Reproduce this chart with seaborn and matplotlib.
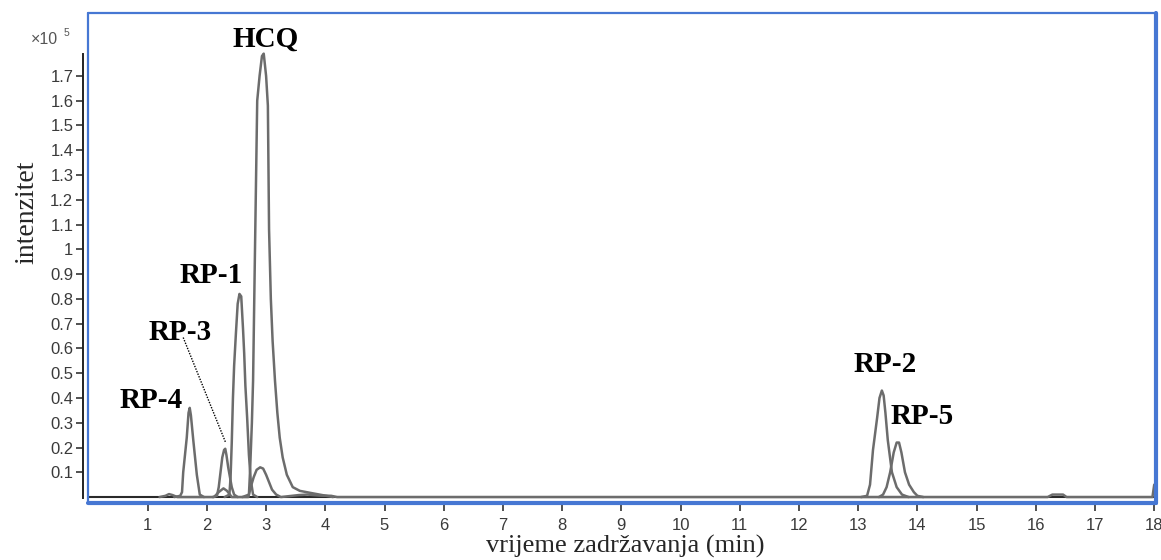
import matplotlib
matplotlib.use('Agg')
import matplotlib.pyplot as plt
import pandas as pd
import seaborn as sns

sns.set_style('white')
plt.rcParams['font.family'] = ['Liberation Sans', 'DejaVu Sans']

# retention time (min) / intensity (x10^5)
rp4_t = [1.45, 1.55, 1.58, 1.60, 1.63, 1.66, 1.69, 1.71, 1.73, 1.77, 1.80, 1.83, 1.88, 1.95]
rp4_i = [0.0, 0.005, 0.02, 0.10, 0.17, 0.24, 0.34, 0.36, 0.33, 0.23, 0.16, 0.09, 0.01, 0.0]

rp3_t = [2.10, 2.17, 2.20, 2.23, 2.26, 2.29, 2.31, 2.33, 2.36, 2.39, 2.42, 2.46, 2.52]
rp3_i = [0.0, 0.005, 0.04, 0.10, 0.16, 0.19, 0.195, 0.17, 0.12, 0.08, 0.04, 0.01, 0.0]

rp1_t = [2.30, 2.38, 2.40, 2.42, 2.44, 2.46, 2.49, 2.52, 2.55, 2.58, 2.61, 2.63, 2.65, 2.68,
         2.71, 2.74, 2.78, 2.85]
rp1_i = [0.0, 0.01, 0.08, 0.22, 0.40, 0.53, 0.66, 0.78, 0.82, 0.81, 0.68, 0.58, 0.45, 0.32,
         0.17, 0.07, 0.01, 0.0]

hcq_t = [2.60, 2.71, 2.73, 2.76, 2.78, 2.81, 2.85, 2.89, 2.93, 2.96, 3.00, 3.03, 3.05, 3.08,
         3.11, 3.15, 3.19, 3.23, 3.28, 3.35, 3.45, 3.57, 3.79, 4.13]
hcq_i = [0.0, 0.01, 0.11, 0.30, 0.47, 0.96, 1.60, 1.70, 1.78, 1.79, 1.70, 1.58, 1.08, 0.80,
         0.63, 0.47, 0.34, 0.24, 0.16, 0.09, 0.04, 0.025, 0.015, 0.0]

minor_t = [1.20, 1.30, 1.36, 1.42, 1.50, 2.12, 2.20, 2.28, 2.34, 2.42, 2.70, 2.74, 2.79, 2.84,
           2.90, 2.95, 3.00, 3.05, 3.10, 3.17, 3.25, 3.55, 3.70, 3.90, 4.10, 4.20,
           16.20, 16.28, 16.46, 16.52, 17.97, 18.00, 18.05]
minor_i = [0.0, 0.005, 0.012, 0.008, 0.0, 0.0, 0.02, 0.035, 0.025, 0.0, 0.0, 0.04, 0.08, 0.11,
           0.12, 0.115, 0.09, 0.06, 0.03, 0.01, 0.0, 0.008, 0.01, 0.006, 0.005, 0.0,
           0.0, 0.01, 0.01, 0.0, 0.0, 0.05, 0.05]

rp2_t = [13.05, 13.15, 13.20, 13.25, 13.32, 13.36, 13.40, 13.43, 13.46, 13.50, 13.57, 13.65,
         13.74, 13.85]
rp2_i = [0.0, 0.005, 0.05, 0.19, 0.32, 0.40, 0.43, 0.41, 0.34, 0.23, 0.10, 0.04, 0.01, 0.0]

rp5_t = [13.35, 13.42, 13.48, 13.54, 13.60, 13.65, 13.69, 13.73, 13.79, 13.86, 13.94, 14.00, 14.10]
rp5_i = [0.0, 0.01, 0.04, 0.10, 0.18, 0.22, 0.22, 0.18, 0.10, 0.05, 0.02, 0.005, 0.0]

x_ticks = list(range(1, 19))
y_ticks = [0.1, 0.2, 0.3, 0.4, 0.5, 0.6, 0.7, 0.8, 0.9, 1.0, 1.1, 1.2, 1.3, 1.4, 1.5, 1.6, 1.7]
y_tick_labels = ['0.1', '0.2', '0.3', '0.4', '0.5', '0.6', '0.7', '0.8', '0.9', '1',
                 '1.1', '1.2', '1.3', '1.4', '1.5', '1.6', '1.7']

# peak labels: text, x, y (baseline)
peak_labels = ['HCQ', 'RP-1', 'RP-3', 'RP-4', 'RP-2', 'RP-5']
label_x = [3.0, 2.08, 1.55, 1.05, 13.45, 14.08]
label_y = [1.816, 0.863, 0.632, 0.358, 0.503, 0.293]

traces = {'RP-4': (rp4_t, rp4_i), 'RP-3': (rp3_t, rp3_i), 'RP-1': (rp1_t, rp1_i),
          'HCQ': (hcq_t, hcq_i), 'minor': (minor_t, minor_i),
          'RP-2': (rp2_t, rp2_i), 'RP-5': (rp5_t, rp5_i)}
df = pd.concat([pd.DataFrame({'t': t, 'I': i, 'trace': name})
                for name, (t, i) in traces.items()], ignore_index=True)

W, H = 1161, 560
fig = plt.figure(figsize=(W / 100, H / 100), dpi=100)
ax = fig.add_axes([88 / W, 1 - 503 / H, (1156 - 88) / W, (503 - 13) / H])

ax.axhline(0, color='#2a2a2a', lw=1.5, zorder=1)
sns.lineplot(data=df, x='t', y='I', units='trace', estimator=None, color='#6c6c6c',
             lw=1.8, legend=False, ax=ax, zorder=2)

ax.set_xlim(-0.008, 18.03)
ax.set_ylim(-0.024, 1.954)

for s in ['top', 'right', 'bottom']:
    ax.spines[s].set_visible(False)
ax.spines['left'].set_position(('outward', 3.6))
ax.spines['left'].set_bounds(-0.005, 1.79)
ax.spines['left'].set_color('#222222')
ax.spines['left'].set_linewidth(1.4)

# blue frame
blue = '#4677d3'
ax.plot([0, 1], [1, 1], transform=ax.transAxes, color=blue, lw=1.6, clip_on=False)
ax.plot([0, 0], [0, 1], transform=ax.transAxes, color=blue, lw=1.6, clip_on=False)
ax.plot([1, 1], [0, 1], transform=ax.transAxes, color=blue, lw=3, clip_on=False)
ax.plot([0, 1], [0, 0], transform=ax.transAxes, color=blue, lw=3, clip_on=False)

ax.set_xticks(x_ticks)
ax.set_xticklabels([str(v) for v in x_ticks])
ax.set_yticks(y_ticks)
ax.set_yticklabels(y_tick_labels)
ax.tick_params(axis='x', direction='out', length=6, width=1.2, color='#333333',
               labelsize=12, labelcolor='#3a3a3a', pad=5, bottom=True)
ax.tick_params(axis='y', direction='out', length=5, width=1.2, color='#333333',
               labelsize=12, labelcolor='#3a3a3a', pad=2, left=True)

ax.set_xlabel('vrijeme zadržavanja (min)', family='Liberation Serif', fontsize=19)
ax.xaxis.set_label_coords(0.503, -0.066)
ax.set_ylabel('intenzitet', family='Liberation Serif', fontsize=20)
ax.yaxis.set_label_coords(-0.046, 0.594)

for txt, lx, ly in zip(peak_labels, label_x, label_y):
    ax.text(lx, ly, txt, family='Liberation Serif', fontweight='bold', fontsize=21,
            ha='center', va='baseline', color='black')

# leader line for RP-3
ax.plot([1.60, 2.32], [0.644, 0.218], color='black', lw=1, ls=(0, (1, 1)))

fig.text(31 / W, 1 - 40 / H, '×10', fontsize=11.5, color='#555555', ha='left', va='center')
fig.text(64 / W, 1 - 33 / H, '5', fontsize=7.5, color='#555555', ha='left', va='center')

fig.savefig('out.png', dpi=100)
